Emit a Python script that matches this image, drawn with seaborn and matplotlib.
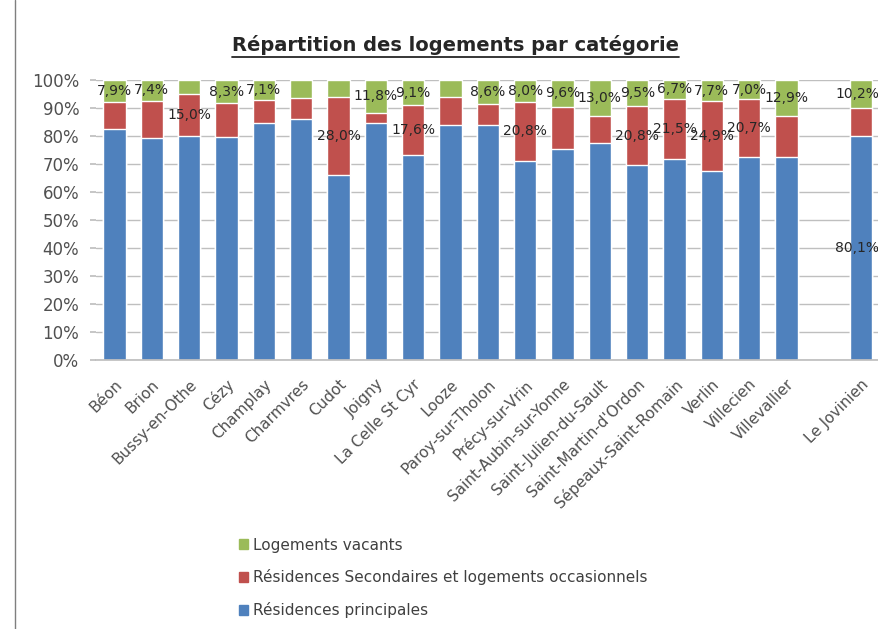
import matplotlib
matplotlib.use("Agg")
import matplotlib.pyplot as plt
import numpy as np
import pandas as pd
import seaborn as sns
from matplotlib.lines import Line2D
from matplotlib.patches import Patch

# communes (the " " slot is the empty gap before Le Jovinien)
communes = ["Béon", "Brion", "Bussy-en-Othe", "Cézy", "Champlay", "Charmvres",
            "Cudot", "Joigny", "La Celle St Cyr", "Looze", "Paroy-sur-Tholon",
            "Précy-sur-Vrin", "Saint-Aubin-sur-Yonne", "Saint-Julien-du-Sault",
            "Saint-Martin-d'Ordon", "Sépeaux-Saint-Romain", "Verlin", "Villecien",
            "Villevallier", " ", "Le Jovinien"]

principales = [82.5, 79.2, 80.0, 79.5, 84.5, 86.0, 66.0, 84.5, 73.3, 83.8, 83.9,
               71.2, 75.4, 77.6, 69.7, 71.8, 67.4, 72.3, 72.6, np.nan, 80.1]
secondaires = [9.6, 13.4, 15.0, 12.2, 8.4, 7.6, 28.0, 3.7, 17.6, 10.2, 7.5,
               20.8, 15.0, 9.4, 20.8, 21.5, 24.9, 20.7, 14.5, np.nan, 9.7]
vacants = [7.9, 7.4, 5.0, 8.3, 7.1, 6.4, 6.0, 11.8, 9.1, 6.0, 8.6,
           8.0, 9.6, 13.0, 9.5, 6.7, 7.7, 7.0, 12.9, np.nan, 10.2]

# which values carry a data label in the original
lab_principales = [False] * 20 + [True]
lab_secondaires = [False, False, True, False, False, False, True, False, True, False, False,
                   True, False, False, True, True, True, True, False, False, False]
lab_vacants = [True, True, False, True, True, False, False, True, True, False, True,
               True, True, True, True, True, True, True, True, False, True]

BLUE = "#4F81BD"
RED = "#C0504D"
GREEN = "#9BBB59"

df = pd.DataFrame({"commune": communes, "p": principales, "s": secondaires, "v": vacants})
df["ps"] = df["p"] + df["s"]
df["tot"] = df["ps"] + df["v"]
data = df[df["commune"] != " "]

sns.set_theme(style="white")
plt.rcParams["font.family"] = ["DejaVu Sans"]

fig = plt.figure(figsize=(8.79, 6.29), dpi=100)
ax = fig.add_axes([0.109, 0.4277, 0.892, 0.4453])

for col, color in [("tot", GREEN), ("ps", RED), ("p", BLUE)]:
    sns.barplot(data=data, x="commune", y=col, order=communes, color=color,
                width=0.6, saturation=1, ax=ax, errorbar=None, zorder=2)

ax.set_ylim(0, 100)
ax.set_xlim(-0.5, len(communes) - 0.5)
ax.set_yticks(np.arange(0, 101, 10))
ax.set_yticklabels([f"{v}%" for v in range(0, 101, 10)], fontsize=12, color="#505050")
ax.yaxis.grid(True, color="#BFBFBF", linewidth=1, zorder=0)
ax.set_axisbelow(True)
ax.tick_params(axis="y", left=True, length=4, color="#BFBFBF", pad=8)
ax.set_xlabel("")
ax.set_ylabel("")
for s in ["left", "right", "top"]:
    ax.spines[s].set_visible(False)
ax.spines["bottom"].set_color("#BFBFBF")
ax.set_xticks(range(len(communes)))
ax.set_xticklabels(communes, rotation=45, ha="right", rotation_mode="anchor",
                   fontsize=11, color="#505050")
ax.tick_params(axis="x", bottom=False, pad=6)

def fmt(v):
    return f"{v:.1f}%".replace(".", ",")

for i, row in df.iterrows():
    if row["commune"] == " ":
        continue
    # the last bar sits at the right edge: keep its labels inside the figure
    ha = "right" if i == len(communes) - 1 else "center"
    x = i + 0.48 if ha == "right" else i
    if lab_vacants[i]:
        ax.text(x, row["ps"] + row["v"] / 2, fmt(row["v"]), ha=ha, va="center",
                fontsize=10, color="#262626", zorder=5)
    if lab_secondaires[i]:
        ax.text(x, row["p"] + row["s"] / 2, fmt(row["s"]), ha=ha, va="center",
                fontsize=10, color="#262626", zorder=5)
    if lab_principales[i]:
        ax.text(x, row["p"] / 2, fmt(row["p"]), ha=ha, va="center",
                fontsize=10, color="#262626", zorder=5)

title = fig.text(0.518, 0.928, "Répartition des logements par catégorie",
                 ha="center", va="center", fontsize=14, fontweight="bold", color="#262626")
fig.canvas.draw()
bb = title.get_window_extent().transformed(fig.transFigure.inverted())
fig.add_artist(Line2D([bb.x0, bb.x1], [bb.y0 - 0.002, bb.y0 - 0.002],
                      transform=fig.transFigure, color="#262626", linewidth=1.3))

# chart frame on the left
fig.add_artist(Line2D([15 / 879, 15 / 879], [0, 1], transform=fig.transFigure,
                      color="#7F7F7F", linewidth=1))

handles = [Patch(color=GREEN, label="Logements vacants"),
           Patch(color=RED, label="Résidences Secondaires et logements occasionnels"),
           Patch(color=BLUE, label="Résidences principales")]
fig.legend(handles=handles, loc="upper left", bbox_to_anchor=(0.265, 0.155),
           frameon=False, fontsize=11, handlelength=0.6, handleheight=0.6,
           handletextpad=0.3, labelspacing=1.1, labelcolor="#404040",
           borderaxespad=0)

fig.savefig("out.png", dpi=100)
